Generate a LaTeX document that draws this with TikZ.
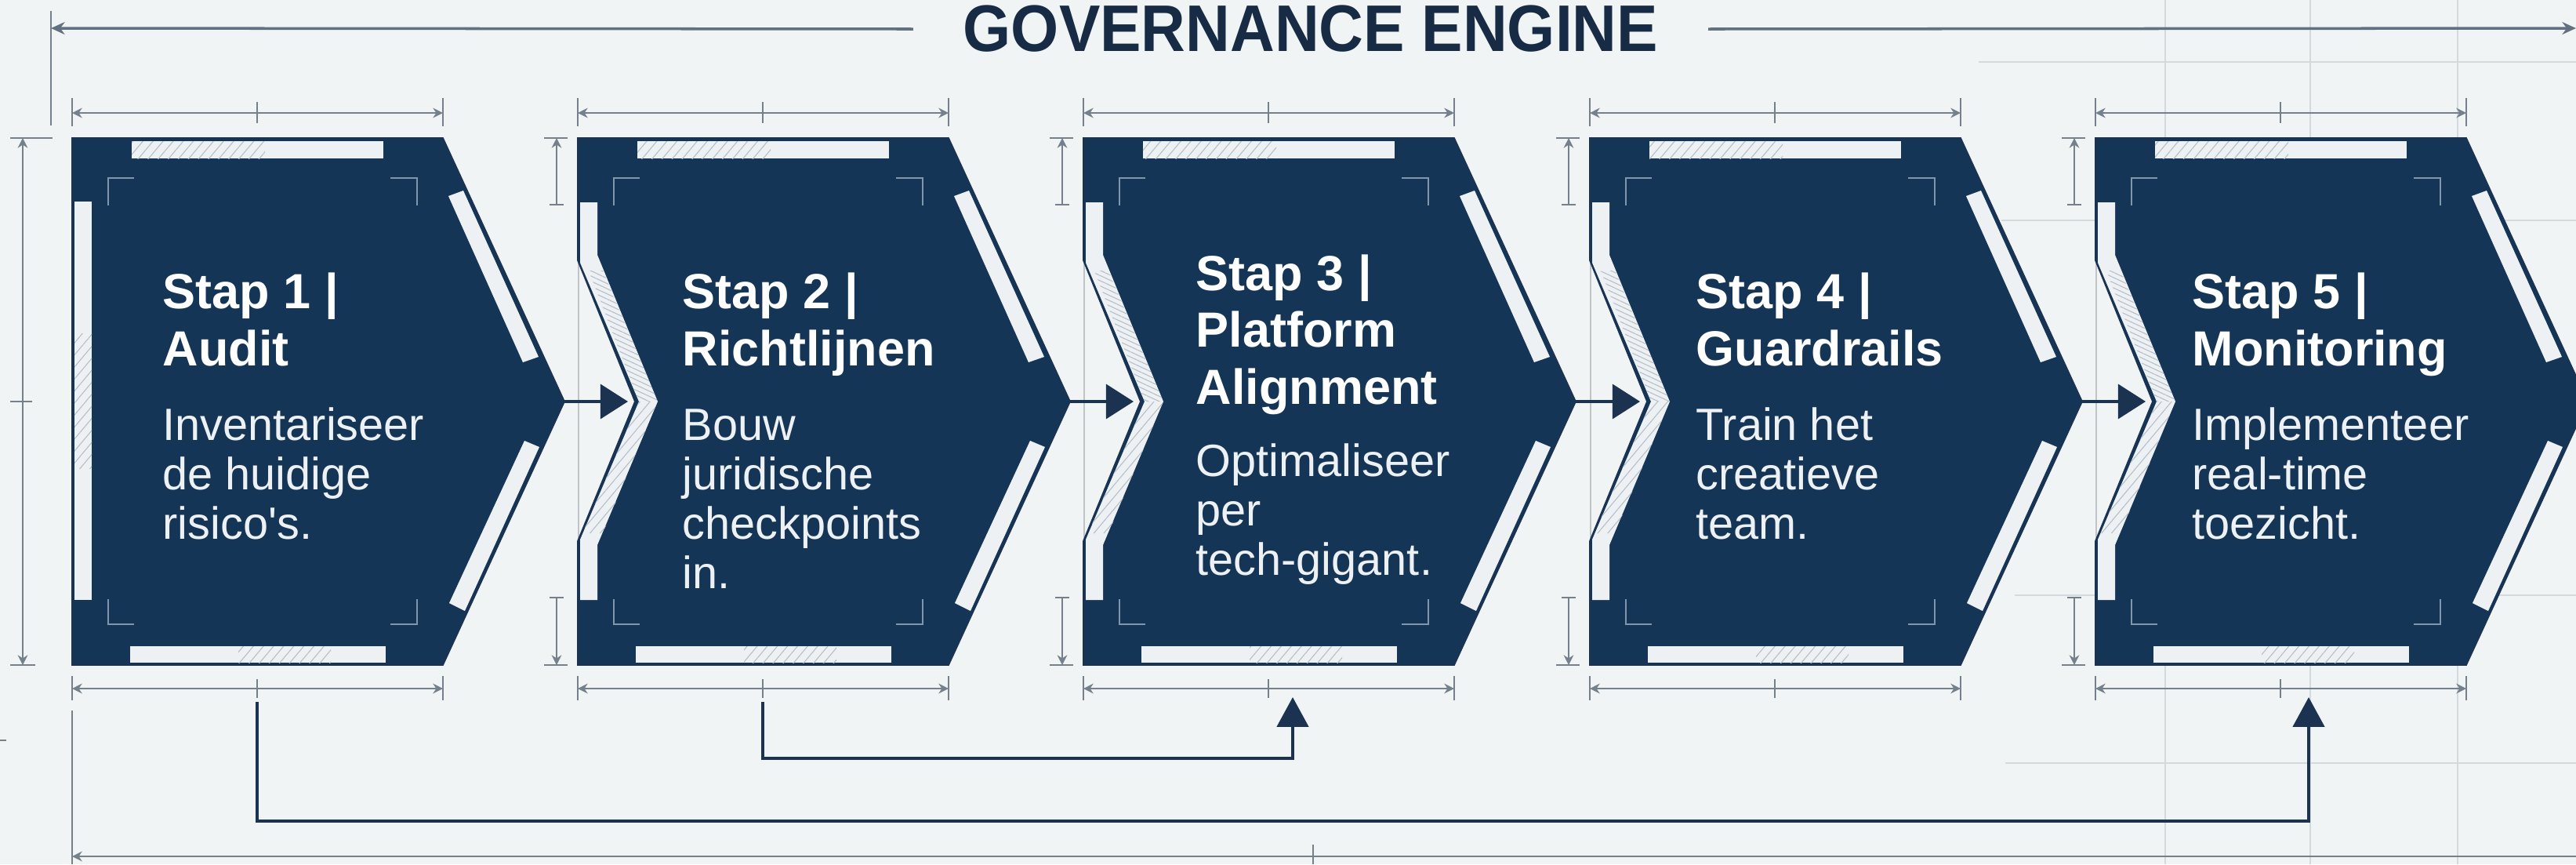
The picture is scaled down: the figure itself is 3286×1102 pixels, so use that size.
\documentclass[tikz,border=0pt]{standalone}
\usepackage{fontspec}
\usetikzlibrary{arrows.meta,patterns.meta}
\setmainfont{Liberation Sans}
\newfontfamily\govfont[FakeStretch=0.935]{Liberation Sans}
\definecolor{paper}{HTML}{F0F4F5}
\definecolor{navy}{HTML}{153557}
\definecolor{ink}{HTML}{1B3350}
\definecolor{strip}{HTML}{EDF1F3}
\definecolor{dimgrey}{HTML}{74818C}
\definecolor{gridgrey}{HTML}{D3DADE}
\definecolor{hatchgrey}{HTML}{B4BEC6}
\definecolor{corner}{HTML}{8195AB}
\tikzset{
  stepshape/.style={fill=navy,draw=ink,line width=0.5pt,line join=miter},
  stripe/.style={fill=strip},
  hatchup/.style={pattern={Lines[angle=-25,distance=1.7pt,line width=0.3pt]},pattern color=hatchgrey},
  hatchdown/.style={pattern={Lines[angle=50,distance=2.8pt,line width=0.3pt]},pattern color=hatchgrey},
  bracket/.style={draw=corner,line width=0.55pt},
  dimline/.style={draw=dimgrey,line width=0.8pt},
  dimtip/.style={{Stealth[length=3.6pt,width=3.6pt]}-{Stealth[length=3.6pt,width=3.6pt]}},
  gridline/.style={draw=gridgrey,line width=0.7pt},
  headline/.style={draw=dimgrey!80!ink,line width=1pt},
  link/.style={draw=ink,line width=1.3pt,-{Triangle[length=10.8pt,width=11.4pt]}},
  steplink/.style={draw=ink,line width=1.1pt,-{Triangle[length=10pt,width=12.5pt]}},
  steptitle/.style={anchor=base west,align=left,inner sep=0pt,text=white,font=\fontsize{17.9}{20.6}\selectfont\bfseries},
  stepbody/.style={anchor=base west,align=left,inner sep=0pt,text=strip,font=\fontsize{16.4}{17.9}\selectfont},
}
\begin{document}
\begin{tikzpicture}[x=0.01cm,y=-0.01cm]
    \path[use as bounding box,clip] (0,0) rectangle (3286,1102);
    \fill[paper] (0,0) rectangle (3286,1102);
    % faint grid on the right
    \foreach \gx in {2762,2947,3135} \draw[gridline] (\gx,0) -- (\gx,1102);
    \draw[gridline] (2524,79) -- (3286,79);
    \draw[gridline] (2553,281) -- (3286,281);
    \draw[gridline] (2570,759) -- (3286,759);
    \draw[gridline] (2558,973) -- (3286,973);
    \draw[dimline] (0,944) -- (8,944);

    % title with its long measure
    \node[inner xsep=18pt,text=ink!85!black,font=\fontsize{23.9}{26}\selectfont\govfont\bfseries] (title) at (1672,37) {GOVERNANCE ENGINE};
    \coordinate (govleft) at (65,36);
    \coordinate (govright) at (3286,36);
    \draw[headline,-{Stealth[length=5pt,width=4.5pt]}] (title.west) -- (govleft);
    \draw[headline,-{Stealth[length=5pt,width=4.5pt]}] (title.east) -- (govright);
    \draw[dimline] (65,14) -- (65,160);

    % first step, flat on the left
    \begin{scope}[shift={(92,0)}]
      \draw[stepshape] (0,176) -- (473,176) -- (628,512) -- (473,848) -- (0,848) -- cycle;
      \fill[stripe] (3,257) rectangle (25,765);
      \fill[hatchdown] (3,425) rectangle (25,597);
      \coordinate (s1tip) at (628,512);
    \end{scope}
    \draw[dimline,dimtip] (29,176) -- (29,848);
    \draw[dimline] (13,176) -- (67,176);
    \draw[dimline] (13,848) -- (45,848);
    \draw[dimline] (13,512) -- (41,512);

    % the other steps, with a notch
    \foreach \n/\x in {2/737,3/1382,4/2028,5/2673} {
      \begin{scope}[shift={(\x,0)}]
        \draw[gridline,draw=gridgrey!90!black] (1,332) -- (1,690);
        \draw[stepshape] (0,176) -- (473,176) -- (628,512) -- (473,848) -- (0,848) -- (0,690) -- (73,512) -- (0,332) -- cycle;
        \fill[stripe] (3,258) -- (3,335) -- (78,512) -- (3,688) -- (3,765) -- (25,765) -- (25,695) -- (102,512) -- (25,325) -- (25,258) -- cycle;
        \fill[hatchup] (14,345) -- (32,345) -- (102,512) -- (78,512) -- cycle;
        \fill[hatchdown] (78,512) -- (102,512) -- (32,680) -- (6,680) -- cycle;
        \coordinate (s\n tip) at (628,512);
        \coordinate (s\n notch) at (64,512);
        % small measures beside the notch
        \draw[dimline,{Stealth[length=3.6pt,width=3.6pt]}-] (-27,176) -- (-27,261);
        \draw[dimline,-{Stealth[length=3.6pt,width=3.6pt]}] (-27,762) -- (-27,848);
        \draw[dimline] (-43,176) -- (-13,176);
        \draw[dimline] (-36,261) -- (-18,261);
        \draw[dimline] (-36,762) -- (-18,762);
        \draw[dimline] (-43,848) -- (-13,848);
      \end{scope}
    }

    % what every step shares
    \foreach \n/\x in {1/92,2/737,3/1382,4/2028,5/2673} {
      \begin{scope}[shift={(\x,0)}]
        \fill[stripe] (76,180) rectangle (397,202);
        \fill[hatchdown] (76,180) rectangle (246,202);
        \fill[stripe] (74,824) rectangle (400,845);
        \fill[hatchdown] (212,824) rectangle (330,845);
        \fill[stripe] (480,250) -- (499,243) -- (595,455) -- (575,462) -- cycle;
        \fill[stripe] (577,562) -- (596,570) -- (501,779) -- (481,769) -- cycle;
        \draw[bracket] (46,262) -- (46,227) -- (79,227);
        \draw[bracket] (406,227) -- (440,227) -- (440,262);
        \draw[bracket] (46,764) -- (46,796) -- (79,796);
        \draw[bracket] (406,796) -- (440,796) -- (440,764);
        \draw[dimline,dimtip] (0,144) -- (473,144);
        \draw[dimline] (0,125) -- (0,161);
        \draw[dimline] (473,125) -- (473,161);
        \draw[dimline] (236,130) -- (236,157);
        \draw[dimline,dimtip] (0,878) -- (473,878);
        \draw[dimline] (0,862) -- (0,893);
        \draw[dimline] (473,862) -- (473,893);
        \draw[dimline] (236,866) -- (236,890);
        \coordinate (s\n out) at (236,895);
      \end{scope}
    }
    \coordinate (s3in) at (1649,889);
    \coordinate (s5in) at (2945,889);

    \node[steptitle] (t1) at (207,466) {Stap 1 |\\Audit};
    \node[stepbody] (b1) at (207,687) {Inventariseer\\de huidige\\risico\textquotesingle s.};
    \node[steptitle] (t2) at (870,466) {Stap 2 |\\Richtlijnen};
    \node[stepbody] (b2) at (870,750) {Bouw\\juridische\\checkpoints\\in.};
    \node[steptitle] (t3) at (1525,515) {Stap 3 |\\Platform\\Alignment};
    \node[stepbody] (b3) at (1525,733) {Optimaliseer\\per\\tech-gigant.};
    \node[steptitle] (t4) at (2163,466) {Stap 4 |\\Guardrails};
    \node[stepbody] (b4) at (2163,687) {Train het\\creatieve\\team.};
    \node[steptitle] (t5) at (2796,466) {Stap 5 |\\Monitoring};
    \node[stepbody] (b5) at (2796,687) {Implementeer\\real-time\\toezicht.};

    \draw[steplink] (s1tip) -- (s2notch);
    \draw[steplink] (s2tip) -- (s3notch);
    \draw[steplink] (s3tip) -- (s4notch);
    \draw[steplink] (s4tip) -- (s5notch);
    \draw[link] (s2out) -- ++(0,72) -| (s3in);
    \draw[link] (s1out) -- ++(0,152) -| (s5in);

    % bottom long measure
    \draw[dimline] (92,906) -- (92,1102);
    \draw[dimline] (1675,1077) -- (1675,1102);
    \draw[dimline,{Stealth[length=3.6pt,width=3.6pt]}-] (92,1092) -- (3286,1092);
\end{tikzpicture}
\end{document}
